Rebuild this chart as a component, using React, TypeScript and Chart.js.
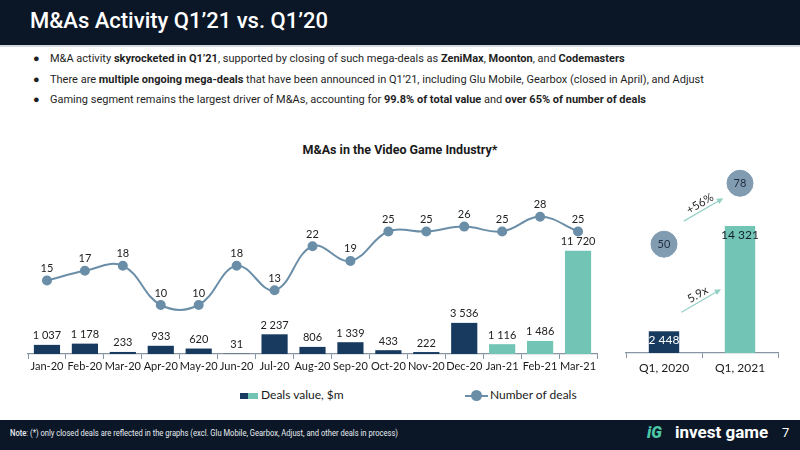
import React, { useEffect, useRef } from "react";
import { Chart, registerables } from "chart.js";

Chart.register(...registerables);

// Monthly M&A activity
const months = [
  "Jan-20", "Feb-20", "Mar-20", "Apr-20", "May-20", "Jun-20", "Jul-20", "Aug-20",
  "Sep-20", "Oct-20", "Nov-20", "Dec-20", "Jan-21", "Feb-21", "Mar-21",
];
const dealValues = [1037, 1178, 233, 933, 620, 31, 2237, 806, 1339, 433, 222, 3536, 1116, 1486, 11720];
const dealCounts = [15, 17, 18, 10, 10, 18, 13, 22, 19, 25, 25, 26, 25, 28, 25];

// Quarter comparison
const quarters = ["Q1, 2020", "Q1, 2021"];
const quarterValues = [2448, 14321];
const quarterCounts = [50, 78];

const NAVY = "#173a5e";
const TEAL = "#72c4b5";
const LINE = "#6a8ea8";
const BUBBLE = "#819cb1";
const ARROW = "#93d1c6";
const AXIS = "#8796a5";
const LABEL_FONT = "Lato, 'Open Sans', sans-serif";

const fmt = (v: number) => String(v).replace(/\B(?=(\d{3})+(?!\d))/g, " ");
const isNewYear = (m: string) => m.endsWith("-21");

const monthLabels = {
  id: "monthLabels",
  afterDatasetsDraw(chart: any) {
    const ctx = chart.ctx;
    ctx.save();
    ctx.font = `11px ${LABEL_FONT}`;
    ctx.fillStyle = "#222";
    ctx.textAlign = "center";
    ctx.textBaseline = "middle";
    chart.data.datasets.forEach((ds: any, i: number) => {
      const meta = chart.getDatasetMeta(i);
      meta.data.forEach((el: any, j: number) => {
        const v = ds.data[j];
        if (ds.type === "line") {
          ctx.fillText(String(v), el.x, el.y - 12);
        } else {
          ctx.fillText(fmt(v), el.x, el.y - 9);
        }
      });
    });
    ctx.restore();
  },
};

function drawArrow(ctx: any, x1: number, y1: number, x2: number, y2: number, text: string) {
  const a = Math.atan2(y2 - y1, x2 - x1);
  ctx.save();
  ctx.strokeStyle = ARROW;
  ctx.fillStyle = ARROW;
  ctx.lineWidth = 1.2;
  ctx.beginPath();
  ctx.moveTo(x1, y1);
  ctx.lineTo(x2 - Math.cos(a) * 4, y2 - Math.sin(a) * 4);
  ctx.stroke();
  ctx.beginPath();
  ctx.moveTo(x2, y2);
  ctx.lineTo(x2 - Math.cos(a - 0.45) * 7, y2 - Math.sin(a - 0.45) * 7);
  ctx.lineTo(x2 - Math.cos(a + 0.45) * 7, y2 - Math.sin(a + 0.45) * 7);
  ctx.closePath();
  ctx.fill();
  const mx = (x1 + x2) / 2 + Math.sin(a) * 7;
  const my = (y1 + y2) / 2 - Math.cos(a) * 7;
  ctx.translate(mx, my);
  ctx.rotate(a);
  ctx.font = `11.5px ${LABEL_FONT}`;
  ctx.fillStyle = "#2a2a2a";
  ctx.textAlign = "center";
  ctx.textBaseline = "middle";
  ctx.fillText(text, 0, 0);
  ctx.restore();
}

const quarterDecor = {
  id: "quarterDecor",
  afterDatasetsDraw(chart: any) {
    const { ctx, scales } = chart;
    const x = scales.x;
    const yValue = scales.yValue;
    const yCount = scales.yCount;
    const x0 = x.getPixelForValue(0);
    const x1 = x.getPixelForValue(1);
    const gap = x1 - x0;

    // labels inside bars and bubbles
    ctx.save();
    ctx.textAlign = "center";
    ctx.textBaseline = "middle";
    const bars = chart.getDatasetMeta(0).data;
    bars.forEach((el: any, j: number) => {
      ctx.font = `12px ${LABEL_FONT}`;
      ctx.fillStyle = j === 0 ? "#ffffff" : "#14202e";
      ctx.fillText(fmt(quarterValues[j]), el.x, el.y + 9);
    });
    const dots = chart.getDatasetMeta(1).data;
    dots.forEach((el: any, j: number) => {
      ctx.font = `11px ${LABEL_FONT}`;
      ctx.fillStyle = "#1f2d3d";
      ctx.fillText(String(quarterCounts[j]), el.x, el.y);
    });
    ctx.restore();

    const valueGrowth = `${(quarterValues[1] / quarterValues[0]).toFixed(1)}x`;
    const countGrowth = `+${Math.round((quarterCounts[1] / quarterCounts[0] - 1) * 100)}%`;
    drawArrow(ctx, x0 + gap * 0.23, yValue.getPixelForValue(4600), x1 - gap * 0.25, yValue.getPixelForValue(7200), valueGrowth);
    drawArrow(ctx, x0 + gap * 0.26, yCount.getPixelForValue(60.6), x1 - gap * 0.22, yCount.getPixelForValue(71.1), countGrowth);
  },
};

const xAxis = (height: number, size: number, pad: number) => ({
  grid: { offset: true, drawOnChartArea: false, drawTicks: true, tickLength: 5, color: AXIS, lineWidth: 1 },
  border: { display: true, color: AXIS, width: 1.2 },
  ticks: { font: { family: LABEL_FONT, size }, color: "#1a1a1a", padding: pad, maxRotation: 0, autoSkip: false },
  afterFit: (s: any) => {
    s.height = height;
  },
});

function MonthlyChart() {
  const ref = useRef<HTMLCanvasElement>(null);
  useEffect(() => {
    const chart = new Chart(ref.current as HTMLCanvasElement, {
      type: "bar",
      data: {
        labels: months,
        datasets: [
          {
            type: "line",
            label: "Number of deals",
            data: dealCounts,
            yAxisID: "yCount",
            borderColor: LINE,
            backgroundColor: LINE,
            pointBackgroundColor: LINE,
            pointBorderColor: LINE,
            pointRadius: 4,
            borderWidth: 2,
            tension: 0.4,
            order: 0,
          } as any,
          {
            type: "bar",
            label: "Deals value, $m",
            data: dealValues,
            yAxisID: "yValue",
            backgroundColor: months.map((m) => (isNewYear(m) ? TEAL : NAVY)),
            barPercentage: 0.69,
            categoryPercentage: 1,
            order: 1,
          },
        ],
      },
      options: {
        animation: false,
        responsive: false,
        maintainAspectRatio: false,
        layout: { padding: { left: 28, right: 13, top: 37, bottom: 0 } },
        plugins: { legend: { display: false }, tooltip: { enabled: false } },
        scales: {
          x: xAxis(25, 11, 1) as any,
          yValue: { display: false, min: 0, max: 16700 },
          yCount: { display: false, min: 0, max: 30 },
        },
      },
      plugins: [monthLabels],
    });
    return () => chart.destroy();
  }, []);
  return <canvas ref={ref} width={610} height={209} style={{ position: "absolute", left: 0, top: 170 }} />;
}

function QuarterChart() {
  const ref = useRef<HTMLCanvasElement>(null);
  useEffect(() => {
    const chart = new Chart(ref.current as HTMLCanvasElement, {
      type: "bar",
      data: {
        labels: quarters,
        datasets: [
          {
            type: "bar",
            label: "Deals value, $m",
            data: quarterValues,
            yAxisID: "yValue",
            backgroundColor: [NAVY, TEAL],
            barPercentage: 0.4,
            categoryPercentage: 1,
            order: 1,
          },
          {
            type: "line",
            label: "Number of deals",
            data: quarterCounts,
            yAxisID: "yCount",
            showLine: false,
            pointRadius: 13,
            pointBackgroundColor: BUBBLE,
            pointBorderColor: BUBBLE,
            order: 0,
          } as any,
        ],
      },
      options: {
        animation: false,
        responsive: false,
        maintainAspectRatio: false,
        layout: { padding: { left: 16, right: 22, top: 18, bottom: 0 } },
        plugins: { legend: { display: false }, tooltip: { enabled: false } },
        scales: {
          x: xAxis(27, 12, 3) as any,
          yValue: { display: false, min: 0, max: 20860 },
          yCount: { display: false, min: 0, max: 85 },
        },
      },
      plugins: [quarterDecor],
    });
    return () => chart.destroy();
  }, []);
  return <canvas ref={ref} width={190} height={230} style={{ position: "absolute", left: 610, top: 150 }} />;
}

function Note() {
  const ref = useRef<HTMLSpanElement>(null);
  useEffect(() => {
    const el = ref.current;
    if (el) {
      el.style.transform = "none";
      const w = el.getBoundingClientRect().width;
      el.style.transform = `scaleX(${388 / w})`;
    }
  }, []);
  return (
    <span
      ref={ref}
      style={{
        position: "absolute",
        left: 10,
        top: 428,
        fontSize: 8.5,
        color: "#e8ecf0",
        whiteSpace: "nowrap",
        transformOrigin: "0 0",
        display: "inline-block",
      }}
    >
      <b style={{ fontWeight: 500 }}>Note</b>: (*) only closed deals are reflected in the graphs (excl. Glu Mobile, Gearbox, Adjust, and other deals in process)
    </span>
  );
}

const bulletStyle: React.CSSProperties = {
  position: "absolute",
  left: 33,
  fontSize: 11,
  color: "#1f1f1f",
  whiteSpace: "nowrap",
  lineHeight: "14px",
};

export default function App() {
  return (
    <div
      style={{
        position: "absolute",
        left: 0,
        top: 0,
        width: 800,
        height: 450,
        overflow: "hidden",
        background: "#ffffff",
        fontFamily: "Roboto, 'Noto Sans', sans-serif",
      }}
    >
      <div style={{ position: "absolute", left: 0, top: 0, width: 800, height: 45, background: "#0b1727" }} />
      <div style={{ position: "absolute", left: 0, top: 45, width: 800, height: 2, background: "#d5d9de" }} />
      <div style={{ position: "absolute", left: 30, top: 8, fontSize: 22, fontWeight: 500, color: "#ffffff", whiteSpace: "nowrap" }}>
        M&amp;As Activity Q1’21 vs. Q1’20
      </div>

      <div style={{ ...bulletStyle, top: 52 }}>
        <span style={{ display: "inline-block", width: 17 }}>●</span>M&amp;A activity <b>skyrocketed in Q1’21</b>, supported by closing of such mega-deals as <b>ZeniMax</b>, <b>Moonton</b>, and <b>Codemasters</b>
      </div>
      <div style={{ ...bulletStyle, top: 73 }}>
        <span style={{ display: "inline-block", width: 17 }}>●</span>There are <b>multiple ongoing mega-deals</b> that have been announced in Q1’21, including Glu Mobile, Gearbox (closed in April), and Adjust
      </div>
      <div style={{ ...bulletStyle, top: 93 }}>
        <span style={{ display: "inline-block", width: 17 }}>●</span>Gaming segment remains the largest driver of M&amp;As, accounting for <b>99.8% of total value</b> and <b>over 65% of number of deals</b>
      </div>

      <div style={{ position: "absolute", left: 0, width: 800, top: 142, textAlign: "center", fontSize: 12.5, fontWeight: 700, color: "#1a1a1a" }}>
        M&amp;As in the Video Game Industry*
      </div>

      <MonthlyChart />
      <QuarterChart />

      {/* legend */}
      <div style={{ position: "absolute", left: 240, top: 393, width: 8, height: 6, background: NAVY }} />
      <div style={{ position: "absolute", left: 248, top: 393, width: 10, height: 6, background: TEAL }} />
      <div style={{ position: "absolute", left: 261, top: 387, fontSize: 12, fontFamily: LABEL_FONT, color: "#1a1a1a", whiteSpace: "nowrap" }}>
        Deals value, $m
      </div>
      <div style={{ position: "absolute", left: 465, top: 395, width: 23, height: 2, background: LINE }} />
      <div style={{ position: "absolute", left: 471, top: 390, width: 11, height: 11, borderRadius: "50%", background: LINE }} />
      <div style={{ position: "absolute", left: 490, top: 387, fontSize: 12, fontFamily: LABEL_FONT, color: "#1a1a1a", whiteSpace: "nowrap" }}>
        Number of deals
      </div>

      {/* footer */}
      <div style={{ position: "absolute", left: 0, top: 420, width: 800, height: 30, background: "#0b1727" }} />
      <Note />
      <div style={{ position: "absolute", left: 647, top: 423, fontSize: 16, fontWeight: 900, fontStyle: "italic", color: "#4cc9a6", whiteSpace: "nowrap" }}>
        iG
      </div>
      <div style={{ position: "absolute", left: 675, top: 422, fontSize: 17, fontWeight: 700, color: "#ffffff", whiteSpace: "nowrap" }}>
        invest game
      </div>
      <div style={{ position: "absolute", left: 782, top: 425, fontSize: 13, color: "#ffffff" }}>7</div>
    </div>
  );
}
